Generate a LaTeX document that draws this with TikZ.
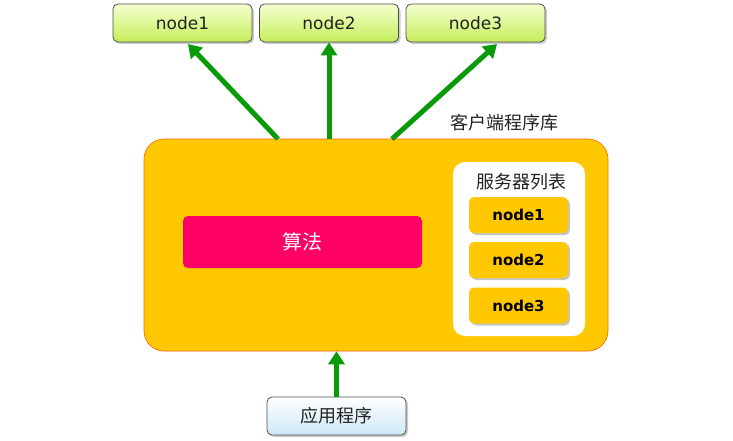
\documentclass[tikz,border=0pt]{standalone}
\usepackage{fontspec}
\setmainfont{DejaVu Sans}
\newfontfamily\cjk{Noto Sans CJK SC}
\usetikzlibrary{arrows.meta,shadows}
\definecolor{topA}{HTML}{F4FFD0}
\definecolor{topB}{HTML}{C6EE5A}
\definecolor{ylw}{HTML}{FFC800}
\definecolor{algo}{HTML}{FF0066}
\definecolor{grn}{HTML}{089A08}
\definecolor{blA}{HTML}{FFFFFF}
\definecolor{blB}{HTML}{CDE8F6}
\definecolor{txt}{HTML}{222222}
\tikzset{
  topnode/.style={draw=black!70, line width=0.8pt, rounded corners=5pt, top color=topA, bottom color=topB,
    minimum width=139pt, minimum height=38pt, font=\fontsize{17}{19}\selectfont, inner sep=0pt, text=txt,
    drop shadow={shadow xshift=2pt, shadow yshift=-2pt, opacity=0.4}},
  srvnode/.style={fill=ylw, rounded corners=5pt, minimum width=99pt, minimum height=36pt,
    font=\bfseries\fontsize{15}{17}\selectfont, inner sep=0pt,
    drop shadow={shadow xshift=2pt, shadow yshift=-2pt, opacity=0.45}},
  cjklabel/.style={font=\cjk\fontsize{18}{20}\selectfont, inner sep=0pt, text=txt},
  arr/.style={draw=grn, line width=5pt, -{Triangle[width=16pt,length=13pt]}},
}
\begin{document}
\begin{tikzpicture}[x=1pt,y=-1pt]
\useasboundingbox (0,0) rectangle (733,441);
% top nodes
\node[topnode] (t1) at (182.5,23) {node1};
\node[topnode] (t2) at (329,23) {node2};
\node[topnode] (t3) at (475.5,23) {node3};
% client library
\node[draw=orange!80!red, line width=0.6pt, fill=ylw, rounded corners=20pt, minimum width=464pt, minimum height=212pt, inner sep=0pt] (lib) at (376,245) {};
\node[cjklabel, anchor=west] (libl) at (450,123) {客户端程序库};
\node[fill=algo, rounded corners=5pt, minimum width=239pt, minimum height=52pt, inner sep=0pt, text=white, font=\cjk\fontsize{20}{22}\selectfont] (alg) at (302.5,242) {算法};
\node[fill=white, rounded corners=12pt, minimum width=132pt, minimum height=174pt, inner sep=0pt] (list) at (519,249) {};
\node[cjklabel] (listl) at (521,182) {服务器列表};
\node[srvnode] (s1) at (518.5,215) {node1};
\node[srvnode] (s2) at (518.5,260) {node2};
\node[srvnode] (s3) at (518.5,305.5) {node3};
% app
\node[draw=black!70, line width=0.8pt, rounded corners=5pt, top color=blA, bottom color=blB,
    minimum width=139pt, minimum height=38pt, cjklabel,
    drop shadow={shadow xshift=2pt, shadow yshift=-2pt, opacity=0.4}] (app) at (336.5,416) {应用程序};
% arrows
\coordinate (l1) at (278,139);
\coordinate (l2) at (329,139);
\coordinate (l3) at (392,139);
\coordinate (h1) at (188,44);
\coordinate (h3) at (497,44);
\draw[arr] (l1) -- (h1);
\draw[arr] (l2) -- (t2.south);
\draw[arr] (l3) -- (h3);
\draw[arr] (app.north) -- (lib.south -| app.north);
\end{tikzpicture}
\end{document}
